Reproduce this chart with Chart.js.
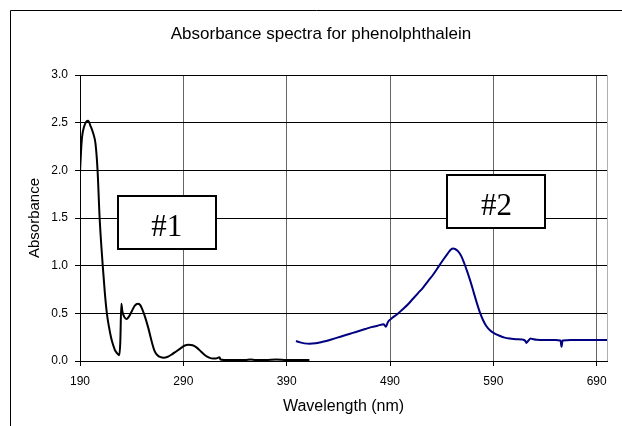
<!DOCTYPE html>
<html><head><meta charset="utf-8">
<script src="https://cdn.jsdelivr.net/npm/chart.js@4/dist/chart.umd.min.js"></script>
<style>html,body{margin:0;padding:0;background:#fff}#wrap{width:622px;height:426px}</style>
</head><body><div id="wrap"><canvas id="c" width="622" height="426"></canvas></div>
<script>
const titleText = 'Absorbance spectra for phenolphthalein';
const xTitle = 'Wavelength (nm)';
const yTitle = 'Absorbance';
const xTicks = [190, 290, 390, 490, 590, 690];
const yTicks = [0, 0.5, 1, 1.5, 2, 2.5, 3];

const spectrum1Wavelength = [190,191,192,194,196,198,200,203,205,207,209,212,214,216,218,220,222,224,226,228,229,230,231,233,235,237,240,243,246,248,250,253,256,259,262,265,268,271,275,279,283,287,291,295,299,303,307,311,315,319,323,325,326,330,340,350,355,360,370,380,390,400,412];
const spectrum1Absorbance = [1.98,2.2,2.35,2.46,2.51,2.52,2.47,2.38,2.28,2.0,1.5,1.0,0.72,0.5,0.36,0.25,0.17,0.11,0.08,0.06,0.2,0.6,0.52,0.46,0.44,0.46,0.52,0.58,0.6,0.59,0.55,0.46,0.35,0.22,0.11,0.06,0.04,0.035,0.045,0.07,0.1,0.13,0.16,0.17,0.165,0.14,0.1,0.06,0.035,0.025,0.03,0.04,0.015,0.01,0.01,0.01,0.015,0.01,0.01,0.015,0.01,0.01,0.01];

const spectrum2Wavelength = [399,403,407,412,418,424,430,436,442,448,454,460,466,472,478,484,486,488,492,497,502,507,512,517,522,527,532,537,542,546,549,551,553,556,559,562,565,568,571,574,577,580,583,587,591,596,601,606,612,618,621,622,624,626,628,632,640,650,655,656,657,665,675,685,695,700];
const spectrum2Absorbance = [0.21,0.195,0.185,0.18,0.185,0.2,0.215,0.235,0.255,0.275,0.295,0.315,0.335,0.355,0.37,0.385,0.36,0.41,0.45,0.49,0.54,0.59,0.65,0.71,0.77,0.84,0.91,0.99,1.07,1.13,1.17,1.18,1.175,1.15,1.1,1.02,0.93,0.83,0.72,0.61,0.51,0.43,0.37,0.32,0.29,0.265,0.245,0.235,0.228,0.225,0.21,0.19,0.215,0.235,0.23,0.222,0.22,0.22,0.215,0.15,0.215,0.22,0.22,0.22,0.22,0.22];

const labelTexts = ['#1', '#2'];
const labelWavelength = [274, 593];
const labelAbsorbance = [1.45, 1.67];

const pts = (xs, ys) => xs.map((x, i) => ({x: x, y: ys[i]}));
const SANS = '"Liberation Sans", Arial, sans-serif';

const framePlugin = {
  id: 'frame',
  afterLayout(chart) {
    // centre the chart title over the whole framed picture, as in the original
    const tb = chart.titleBlock;
    if (tb) { tb.left = 35; }
  },
  beforeDraw(chart) {
    const ctx = chart.ctx;
    ctx.save();
    ctx.fillStyle = '#fff';
    ctx.fillRect(0, 0, chart.width, chart.height);
    ctx.strokeStyle = '#000';
    ctx.lineWidth = 1;
    ctx.beginPath();
    ctx.moveTo(10.5, chart.height);
    ctx.lineTo(10.5, 10.5);
    ctx.lineTo(chart.width, 10.5);
    ctx.stroke();
    ctx.restore();
  },
  beforeDatasetsDraw(chart) {
    const a = chart.chartArea, ctx = chart.ctx;
    ctx.save();
    ctx.strokeStyle = '#b0b0b0';
    ctx.lineWidth = 1;
    ctx.beginPath();
    ctx.moveTo(Math.round(a.right) + 0.5, a.top);
    ctx.lineTo(Math.round(a.right) + 0.5, a.bottom);
    ctx.stroke();
    ctx.restore();
  }
};

const labelPlugin = {
  id: 'labels',
  afterDraw(chart) {
    const ctx = chart.ctx, xs = chart.scales.x, ys = chart.scales.y;
    ctx.save();
    labelTexts.forEach((t, i) => {
      const cx = xs.getPixelForValue(labelWavelength[i]);
      const cy = ys.getPixelForValue(labelAbsorbance[i]);
      const w = 98, h = 53;
      const l = Math.round(cx - w / 2), tp = Math.round(cy - h / 2);
      ctx.fillStyle = '#fff';
      ctx.fillRect(l, tp, w, h);
      ctx.strokeStyle = '#000';
      ctx.lineWidth = 2;
      ctx.strokeRect(l, tp, w, h);
      ctx.fillStyle = '#000';
      ctx.font = '31px "Liberation Serif", "Times New Roman", serif';
      ctx.textAlign = 'center';
      ctx.textBaseline = 'alphabetic';
      ctx.fillText(t, cx, cy + 13);
    });
    ctx.restore();
  }
};

new Chart(document.getElementById('c'), {
  type: 'line',
  data: {
    datasets: [
      { label: 'Spectrum 1', data: pts(spectrum1Wavelength, spectrum1Absorbance), borderColor: '#000000', borderWidth: 2, pointRadius: 0, fill: false, cubicInterpolationMode: 'monotone' },
      { label: 'Spectrum 2', data: pts(spectrum2Wavelength, spectrum2Absorbance), borderColor: '#000080', borderWidth: 2, pointRadius: 0, fill: false, cubicInterpolationMode: 'monotone' }
    ]
  },
  options: {
    responsive: false,
    devicePixelRatio: 1,
    animation: false,
    layout: { padding: { left: 0, right: 15, top: 0, bottom: 0 } },
    plugins: {
      legend: { display: false },
      tooltip: { enabled: false },
      title: {
        display: true, text: titleText, color: '#000',
        font: { family: SANS, size: 17, weight: 'normal', lineHeight: 1.2 },
        padding: { top: 24, bottom: 30.6 }
      }
    },
    scales: {
      x: {
        type: 'linear', min: 190, max: 700,
        afterBuildTicks: s => { s.ticks = xTicks.map(v => ({ value: v })); },
        afterFit: s => { s.height = 65; },
        ticks: { color: '#000', font: { family: SANS, size: 12 }, padding: 8, maxRotation: 0, autoSkip: false, callback: v => String(v) },
        grid: { color: '#666', tickColor: '#000', tickLength: 5, lineWidth: 1 },
        border: { color: '#000', width: 1 },
        title: { display: true, text: xTitle, color: '#000', font: { family: SANS, size: 16, lineHeight: 1.2 }, padding: { top: 0, bottom: 10 } }
      },
      y: {
        min: 0, max: 3,
        afterBuildTicks: s => { s.ticks = yTicks.map(v => ({ value: v })); },
        afterFit: s => { s.width = 80; },
        ticks: { color: '#000', font: { family: SANS, size: 12 }, padding: 7, callback: v => v.toFixed(1) },
        grid: { color: '#000', tickColor: '#000', tickLength: 5, lineWidth: 1 },
        border: { color: '#000', width: 1 },
        title: { display: true, text: yTitle, color: '#000', font: { family: SANS, size: 15, lineHeight: 1.2 }, padding: { top: 26, bottom: 0 } }
      }
    }
  },
  plugins: [framePlugin, labelPlugin]
});
</script></body></html>
